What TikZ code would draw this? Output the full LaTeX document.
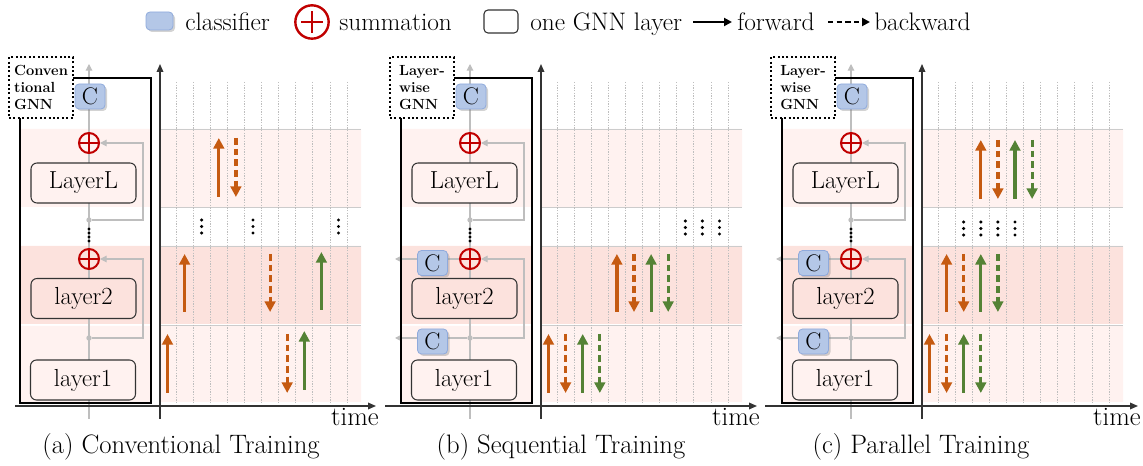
\documentclass[tikz,border=0pt]{standalone}
\usepackage{amsmath,amssymb}
\usepackage{xcolor}
\usepackage{tikz}
\usetikzlibrary{arrows.meta,shadows,calc}

\definecolor{clsfill}{RGB}{180,199,231}
\definecolor{clsdraw}{RGB}{143,170,220}
\definecolor{sumred}{RGB}{192,0,0}
\definecolor{fwdorange}{RGB}{197,90,17}
\definecolor{fwdgreen}{RGB}{84,130,53}
\definecolor{bandlight}{RGB}{255,242,240}
\definecolor{banddark}{RGB}{252,226,221}
\definecolor{slotgray}{RGB}{190,190,190}
\definecolor{linkgray}{RGB}{190,190,190}

\pgfdeclarelayer{back}
\pgfdeclarelayer{mid}
\pgfsetlayers{back,mid,main}

\tikzset{
  bigtext/.style={font=\fontsize{20}{24}\selectfont, inner sep=0pt},
  legendtext/.style={font=\fontsize{19}{23}\selectfont, inner sep=0pt, anchor=base west},
  layerbox/.style={draw=black!80, rounded corners=4.5pt, line width=0.8pt, minimum width=78.75pt, minimum height=30pt, inner sep=0pt, font=\fontsize{18.5}{22}\selectfont},
  clsbox/.style={draw=clsdraw, fill=clsfill, rounded corners=3pt, line width=0.6pt, minimum width=22.5pt, minimum height=18.75pt, inner sep=0pt, drop shadow={shadow xshift=1.5pt, shadow yshift=-1.5pt, opacity=0.35}, font=\fontsize{18}{20}\selectfont},
  sumnode/.style={circle, draw=sumred, line width=1.5pt, minimum size=15pt, inner sep=0pt,
    path picture={\draw[sumred, line width=1.5pt]
      ($(path picture bounding box.north)!#1!(path picture bounding box.south)$) -- ($(path picture bounding box.south)!#1!(path picture bounding box.north)$)
      ($(path picture bounding box.west)!#1!(path picture bounding box.east)$) -- ($(path picture bounding box.east)!#1!(path picture bounding box.west)$);}},
  sumnode/.default=0,
  tagbox/.style={draw, fill=white, line width=1.5pt, dash pattern=on 1.5pt off 1.8pt, minimum width=48pt, minimum height=45.75pt, align=left, inner sep=2pt, font=\fontsize{11}{12.5}\selectfont\bfseries},
  joint/.style={circle, fill=linkgray, minimum size=4pt, inner sep=0pt},
  link/.style={draw=linkgray, line width=0.8pt, -{Triangle[length=5pt,width=5pt]}},
  axis/.style={draw=black!80, line width=0.9pt, -{Triangle[length=6pt,width=5pt]}},
  stackframe/.style={draw=black, line width=0.9pt},
  slotline/.style={draw=slotgray, line width=0.6pt, dash pattern=on 1pt off 1pt},
  bandedge/.style={draw=black!20, line width=0.7pt},
  tl/.style={line width=2.4pt, -{Triangle[length=8pt,width=8pt]}},
  fwdO/.style={tl, color=fwdorange},
  bwdO/.style={tl, color=fwdorange, dash pattern=on 5pt off 3pt},
  fwdG/.style={tl, color=fwdgreen},
  bwdG/.style={tl, color=fwdgreen, dash pattern=on 5pt off 3pt},
  legendarrow/.style={draw=black, line width=1.5pt, -{Triangle[length=6pt,width=6pt]}}
}

\begin{document}
\begin{tikzpicture}[x=0.75pt,y=0.75pt,yscale=-1,xscale=1]
\useasboundingbox (0,0) rectangle (1143,466);
% Legend
\node[clsbox, minimum width=20.25pt, minimum height=13.5pt] (lgcls) at (159.5,21) {};
\node[legendtext] (lgclst) at (185,30.5) {classifier};
\node[sumnode=0.18, minimum size=25pt, line width=1.8pt] (lgsum) at (312,22) {};
\node[legendtext] (lgsumt) at (339,30.5) {summation};
\node[layerbox, minimum width=25.5pt, minimum height=17.25pt, rounded corners=3pt] (lggnn) at (501,21.5) {};
\node[legendtext] (lggnnt) at (530,30.5) {one GNN layer};
\coordinate (lgf0) at (693,22);
\coordinate (lgf1) at (732,22);
\draw[legendarrow] (lgf0) -- (lgf1);
\node[legendtext] (lgfwdt) at (737,30.5) {forward};
\coordinate (lgb0) at (828,22);
\coordinate (lgb1) at (870,22);
\draw[legendarrow, dash pattern=on 4pt off 2.5pt] (lgb0) -- (lgb1);
\node[legendtext] (lgbwdt) at (874,30.5) {backward};

% Panels: GNN stack, bands, time axes
\foreach \p/\dx/\hx/\tg in {a/0/15/{Conven\\tional\\GNN}, b/381/4/{Layer-\\wise\\GNN}, c/762/3/{Layer-\\wise\\GNN}}{
\begin{scope}[shift={(\dx,0)}]
  \begin{pgfonlayer}{back}
    \fill[bandlight] (20,129) rectangle (151,207) (160,129) rectangle (361,207);
    \fill[banddark] (20,246) rectangle (151,324) (160,246) rectangle (361,324);
    \fill[bandlight] (20,326) rectangle (151,402) (160,326) rectangle (361,402);
    \draw[bandedge] (160,129) -- (361,129) (160,207) -- (361,207) (160,246) -- (361,246) (160,325) -- (361,325);
    \foreach \k in {0,...,10}
      \draw[slotline] ({176+17.1*\k},82) -- ({176+17.1*\k},404);
  \end{pgfonlayer}
  %Shape: GNN frame
  \draw[stackframe] (20,78) rectangle (151,403);
  \node[tagbox] (tag-\p) at (41,87.5) {\tg};
  \node[clsbox] (cls-\p) at (90,96.5) {C};
  \node[sumnode, fill=bandlight] (sL-\p) at (89,143) {};
  \node[layerbox, fill=bandlight] (LL-\p) at (83.5,183) {LayerL};
  \node[joint] (jL-\p) at (89,220) {};
  \node[sumnode, fill=banddark] (s2-\p) at (89,259) {};
  \node[layerbox, fill=banddark] (L2-\p) at (83.5,298.5) {layer2};
  \node[joint] (j1-\p) at (89,338) {};
  \node[layerbox, fill=bandlight] (L1-\p) at (83,380) {layer1};
  \coordinate (in-\p) at (89,419);
  \coordinate (out-\p) at (89,64);
  \foreach \yy in {229,233,237,241}
    \fill (89,\yy) circle (1.2pt);
  \begin{pgfonlayer}{mid}
    \draw[link] (in-\p) -- (out-\p);
    \draw[link] (jL-\p) -- ++(54,0) |- (sL-\p);
    \draw[link] (j1-\p) -- ++(54,0) |- (s2-\p);
  \end{pgfonlayer}
  %Straight Lines: time axes
  \draw[axis] (160,419) -- (160,64);
  \draw[axis] (\hx,406) -- (376,406);
  % Text Node
  \node[bigtext, anchor=base east] (time-\p) at (379,426) {time};
\end{scope}
}

% per-layer classifiers
\foreach \p/\dx in {b/381,c/762}{
\begin{scope}[shift={(\dx,0)}]
  \node[clsbox] (c2-\p) at (51.5,263) {C};
  \node[clsbox] (c1-\p) at (51.5,341.5) {C};
  \coordinate (o2-\p) at (14,259);
  \coordinate (o1-\p) at (14,338);
  \begin{pgfonlayer}{mid}
    \draw[link] (s2-\p) -- (o2-\p);
    \draw[link] (j1-\p) -- (o1-\p);
  \end{pgfonlayer}
\end{scope}
}

% (a) time slots
\foreach \s/\j/\ya/\yb in {fwdO/3/197/138, bwdO/4/138/197, fwdO/1/312/254, bwdO/6/254/312, fwdG/9/310/252, fwdO/0/393/334, bwdO/7/334/393, fwdG/8/390/331}
  \draw[\s] ({167.5+17.1*\j},\ya) -- ({167.5+17.1*\j},\yb);
\foreach \j in {2,5,10}
  \foreach \yy in {220,226.5,233}
    \fill ({167.5+17.1*\j},\yy) circle (1.3pt);

% (b) time slots
\begin{scope}[shift={(381,0)}]
  \foreach \s/\j/\ya/\yb in {fwdO/4/312/254, bwdO/5/254/312, fwdG/6/312/254, bwdG/7/254/312, fwdO/0/393/334, bwdO/1/334/393, fwdG/2/393/334, bwdG/3/334/393}
    \draw[\s] ({167.5+17.1*\j},\ya) -- ({167.5+17.1*\j},\yb);
  \foreach \j in {8,9,10}
    \foreach \yy in {221,227.5,234}
      \fill ({167.5+17.1*\j},\yy) circle (1.3pt);
\end{scope}

% (c) time slots
\begin{scope}[shift={(762,0)}]
  \foreach \s/\j/\ya/\yb in {fwdO/3/199/140, bwdO/4/140/199, fwdG/5/199/140, bwdG/6/140/199, fwdO/1/312/254, bwdO/2/254/312, fwdG/3/312/254, bwdG/4/254/312, fwdO/0/393/334, bwdO/1/334/393, fwdG/2/393/334, bwdG/3/334/393}
    \draw[\s] ({167.5+17.1*\j},\ya) -- ({167.5+17.1*\j},\yb);
  \foreach \j in {2,3,4,5}
    \foreach \yy in {222,228.5,235}
      \fill ({167.5+17.1*\j},\yy) circle (1.3pt);
\end{scope}

% Text Node
\node[bigtext, anchor=base] (capa) at (181,454) {(a) Conventional Training};
% Text Node
\node[bigtext, anchor=base] (capb) at (561,454) {(b) Sequential Training};
% Text Node
\node[bigtext, anchor=base] (capc) at (921,454) {(c) Parallel Training};
\end{tikzpicture}
\end{document}
